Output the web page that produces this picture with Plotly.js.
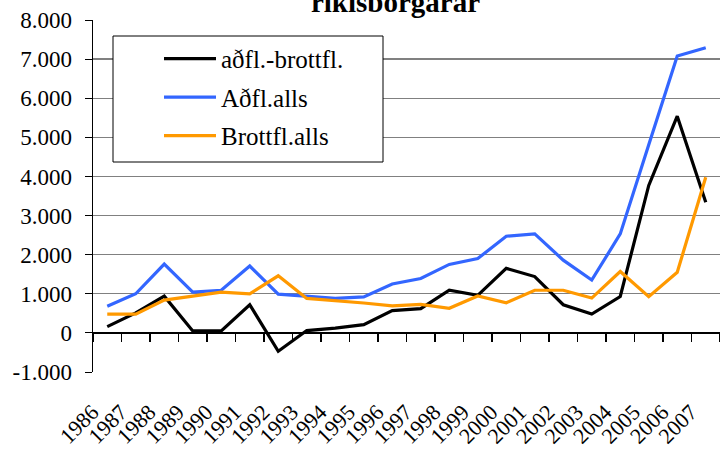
<!DOCTYPE html>
<html>
<head>
<meta charset="utf-8">
<script src="https://cdn.plot.ly/plotly-3.0.1.min.js"></script>
<style>html,body{margin:0;padding:0;background:#fff;}#chart{width:720px;height:450px;}</style>
</head>
<body>
<div id="chart"></div>
<script>
const years = ['1986','1987','1988','1989','1990','1991','1992','1993','1994','1995','1996','1997','1998','1999','2000','2001','2002','2003','2004','2005','2006','2007'];
const netto = [160, 510, 940, 50, 50, 720, -470, 60, 120, 210, 570, 620, 1090, 960, 1650, 1440, 720, 480, 930, 3770, 5540, 3340];
const adfl = [680, 1000, 1760, 1040, 1090, 1710, 990, 935, 880, 920, 1250, 1390, 1750, 1900, 2470, 2530, 1860, 1350, 2530, 4810, 7080, 7290];
const brottfl = [480, 480, 840, 940, 1040, 1000, 1460, 880, 830, 765, 690, 730, 630, 945, 770, 1090, 1090, 890, 1570, 925, 1550, 3980];
const seriesNames = ['aðfl.-brottfl.', 'Aðfl.alls', 'Brottfl.alls'];
const yTickVals = [-1000, 0, 1000, 2000, 3000, 4000, 5000, 6000, 7000, 8000];
const yTickText = ['-1.000', '0', '1.000', '2.000', '3.000', '4.000', '5.000', '6.000', '7.000', '8.000'];
const titleText = 'ríkisborgarar';

const FONT = 'Liberation Serif, Times New Roman, Times, serif';
const yMin = -1000, yMax = 8000;

function line(y, name, color, grp) {
  return {x: years, y: y, name: name, type: 'scatter', mode: 'lines',
    line: {color: color, width: 3.2}, legendgroup: grp, hoverinfo: 'skip'};
}
const traces = [
  line(netto, seriesNames[0], '#000000', 'a'),
  line(adfl, seriesNames[1], '#3366FF', 'b'),
  line(brottfl, seriesNames[2], '#FF9900', 'c'),
  {x: years, y: netto, xaxis: 'x2', type: 'scatter', mode: 'lines', opacity: 0,
   showlegend: false, hoverinfo: 'skip', line: {width: 0}}
];

const layout = {
  width: 720, height: 450,
  margin: {l: 93, r: 0, t: 20, b: 78},
  paper_bgcolor: '#ffffff', plot_bgcolor: '#ffffff',
  font: {family: FONT, size: 23, color: '#000'},
  showlegend: true,
  title: {text: titleText, font: {family: FONT, size: 29, color: '#000', weight: 'bold'},
    x: 395.5 / 720, xref: 'container', xanchor: 'center', y: 0.995, yref: 'container', yanchor: 'middle'},
  xaxis: {type: 'category', range: [-0.5, 21.5], showgrid: false, showline: false, zeroline: false,
    ticks: '', tickmode: 'linear', dtick: 1, tickangle: -45,
    tickfont: {family: FONT, size: 22, color: '#000'}, ticklabelstandoff: 22, ticklabelshift: -15},
  xaxis2: {type: 'category', overlaying: 'x', matches: 'x', anchor: 'free',
    position: (0 - yMin) / (yMax - yMin),
    showgrid: false, showline: false, zeroline: false, showticklabels: false,
    ticks: 'outside', ticklen: 8, tickwidth: 1.3, tickcolor: '#000', tickson: 'boundaries',
    tickmode: 'linear', dtick: 1},
  yaxis: {range: [yMin, yMax], tickmode: 'array', tickvals: yTickVals, ticktext: yTickText,
    showgrid: true, gridcolor: '#808080', gridwidth: 1.3,
    zeroline: true, zerolinecolor: '#000', zerolinewidth: 2.2,
    showline: true, linecolor: '#000', linewidth: 1.5,
    ticks: 'outside', ticklen: 7, tickwidth: 1, tickcolor: '#000',
    ticklabelstandoff: 8,
    tickfont: {family: FONT, size: 23, color: '#000'}},
  legend: {x: (159 - 93) / 627, y: 0.955, xanchor: 'left', yanchor: 'top',
    bgcolor: 'rgba(0,0,0,0)', borderwidth: 0, itemwidth: 52,
    font: {family: FONT, size: 25, color: '#000'},
    tracegroupgap: 3},
  shapes: [{type: 'rect', xref: 'paper', yref: 'paper', layer: 'above',
    x0: (113 - 93) / 627, x1: (383 - 93) / 627, y0: (372 - 162) / 352, y1: (372 - 36) / 352,
    fillcolor: '#ffffff', line: {color: '#000', width: 1}}]
};

Plotly.newPlot('chart', traces, layout, {displayModeBar: false, staticPlot: true});
</script>
</body>
</html>
